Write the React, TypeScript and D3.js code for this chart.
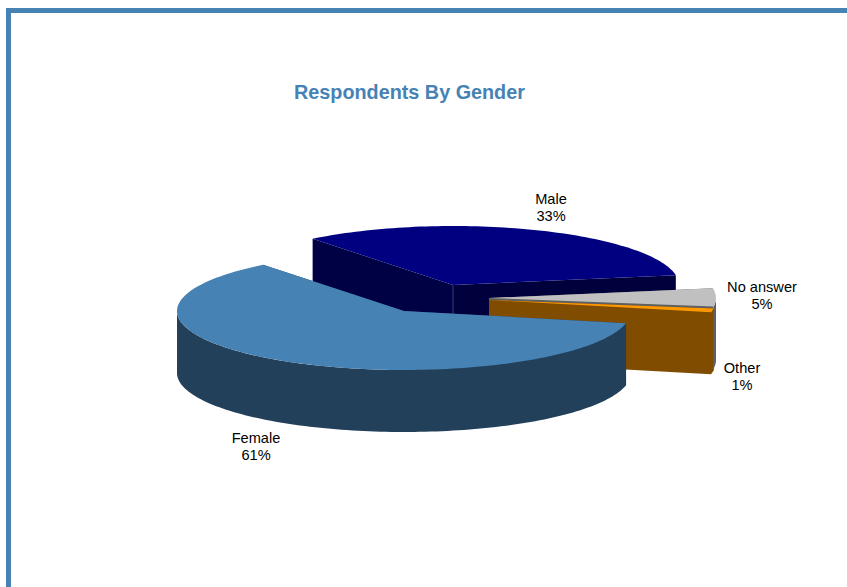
import React from "react";
import * as d3 from "d3";

// Survey breakdown
const categories = ["Female", "Male", "No answer", "Other"];
const shares = [61, 33, 5, 1];
const topColors = ["#4682b4", "#000080", "#c0c0c0", "#ff9900"];
const wallColors = ["#23405a", "#000045", "#606060", "#804d00"];

// Canvas and projection settings
const WIDTH = 847;
const HEIGHT = 587;
const RADII_X = [227, 226, 227, 227];
const RY = 59;
const DEPTH = 62;
const START_DEG = 12;
const centers: [number, number][] = [
  [404, 311],
  [453, 285],
  [489, 298],
  [489, 300],
];
const labelSpots: [number, number][] = [
  [256, 438],
  [551, 199],
  [762, 287],
  [742, 368],
];

type Pt = [number, number];
const toPath = d3.line<Pt>().x((p) => p[0]).y((p) => p[1]);

// Maps an angle on the flattened disc to screen coordinates.
const rim = (c: Pt, rx: number, t: number, drop = 0): Pt => [
  c[0] + rx * Math.cos(t),
  c[1] + RY * Math.sin(t) + drop,
];

const sampleRim = (c: Pt, rx: number, a: number, b: number, drop = 0): Pt[] => {
  const n = Math.max(2, Math.ceil(Math.abs(b - a) * 40));
  const scale = d3.scaleLinear().domain([0, n]).range([a, b]);
  return d3.range(n + 1).map((i) => rim(c, rx, scale(i), drop));
};

const topFace = (c: Pt, rx: number, a: number, b: number) =>
  toPath([c, ...sampleRim(c, rx, a, b)]) + "Z";

// Outer curved wall, clipped to the part of the rim that faces the viewer.
const outerWall = (c: Pt, rx: number, a: number, b: number) => {
  const tau = 2 * Math.PI;
  const spans: [number, number][] = [];
  for (const k of [0, 1]) {
    const lo = Math.max(a, k * tau);
    const hi = Math.min(b, k * tau + Math.PI);
    if (hi > lo) spans.push([lo, hi]);
  }
  return spans
    .map(
      ([lo, hi]) =>
        toPath([...sampleRim(c, rx, lo, hi), ...sampleRim(c, rx, hi, lo, DEPTH)]) + "Z"
    )
    .join("");
};

// Flat wall running from the slice centre out to the rim at angle t.
const cutWall = (c: Pt, rx: number, t: number) => {
  const e = rim(c, rx, t);
  const quad: Pt[] = [c, e, [e[0], e[1] + DEPTH], [c[0], c[1] + DEPTH]];
  return toPath(quad) + "Z";
};

const arcs = d3
  .pie<number>()
  .sort(null)
  .startAngle((START_DEG * Math.PI) / 180)
  .endAngle((START_DEG * Math.PI) / 180 + 2 * Math.PI)(shares);

// Back slices are painted first so the front slice overlaps them.
const paintOrder = [1, 2, 3, 0];

export default function App() {
  return (
    <svg
      width={WIDTH}
      height={HEIGHT}
      viewBox={`0 0 ${WIDTH} ${HEIGHT}`}
      style={{ position: "absolute", left: 0, top: 0, display: "block", background: "#fff" }}
      fontFamily="'Liberation Sans', Arial, sans-serif"
    >
      <rect x={6} y={8} width={WIDTH - 6} height={5} fill="#4682b4" />
      <rect x={6} y={8} width={5} height={HEIGHT - 8} fill="#4682b4" />
      <text x={409.5} y={99} textAnchor="middle" fontSize={19.8} fontWeight="bold" fill="#4682b4">
        Respondents By Gender
      </text>

      {paintOrder.map((i) => {
        const c = centers[i];
        const rx = RADII_X[i];
        const { startAngle: a, endAngle: b } = arcs[i];
        return (
          <g key={categories[i]}>
            <path d={cutWall(c, rx, a)} fill={wallColors[i]} />
            <path d={cutWall(c, rx, b)} fill={i === 1 ? "#00003c" : wallColors[i]} />
            <path d={outerWall(c, rx, a, b)} fill={wallColors[i]} />
            {i === 1 && (
              <line x1={c[0]} x2={c[0]} y1={c[1]} y2={c[1] + DEPTH} stroke="#4a4a80" strokeWidth={0.8} />
            )}
            <path d={topFace(c, rx, a, b)} fill={topColors[i]} />
          </g>
        );
      })}

      {categories.map((name, i) => (
        <text key={name} textAnchor="middle" fontSize={14.6} fill="#000">
          <tspan x={labelSpots[i][0]} y={labelSpots[i][1] + 5}>{name}</tspan>
          <tspan x={labelSpots[i][0]} y={labelSpots[i][1] + 22}>{shares[i]}%</tspan>
        </text>
      ))}
    </svg>
  );
}
